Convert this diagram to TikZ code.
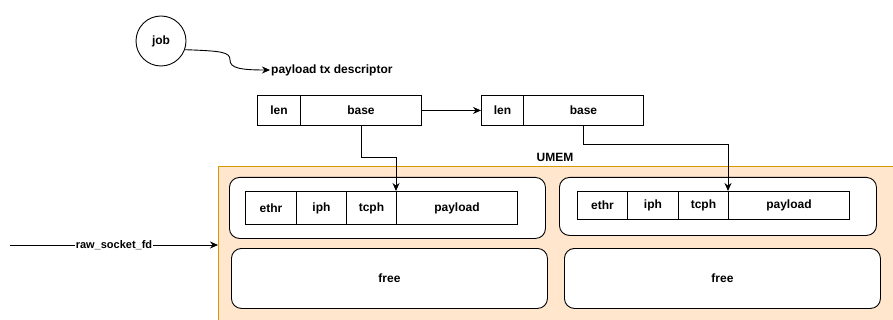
\documentclass[tikz,border=0pt]{standalone}
\usepackage{fontspec}
\setmainfont{Liberation Sans}
\usetikzlibrary{arrows.meta}
\definecolor{umemfill}{HTML}{FFE6CC}
\definecolor{umemline}{HTML}{D79B00}
\tikzset{
  lbl/.style={font=\bfseries\fontsize{12}{14}\selectfont, inner sep=1pt},
  cell/.style={draw, line width=0.9pt, fill=white, anchor=north west, inner sep=0pt,
    font=\bfseries\fontsize{12}{14}\selectfont},
  region/.style={draw, line width=0.9pt, fill=white, rounded corners=10pt, anchor=north west, inner sep=0pt,
    font=\bfseries\fontsize{12}{14}\selectfont},
  arr/.style={line width=0.9pt, -{Stealth[length=8pt,width=7pt]}},
}
\begin{document}
\begin{tikzpicture}[x=1pt,y=-1pt]
\useasboundingbox (0,0) rectangle (893,320);
\clip (0,0) rectangle (893,320);
% UMEM area
\fill[umemfill] (218,167) rectangle (900,330);
\draw[umemline, line width=1pt] (900,167) -- (218,167) -- (218,330);
\node[lbl] (umemlbl) at (555,157) {UMEM};
\coordinate (umemw) at (218,245);

% job
\node[draw, circle, line width=0.9pt, minimum size=50pt, inner sep=0pt, lbl] (job) at (161,41) {job};
\node[lbl, anchor=west] (desc) at (270,70) {payload tx descriptor};
\draw[arr] (job.-20) .. controls (222,51) and (230,52) .. (230,60)
  .. controls (230,68) and (240,70) .. (desc.west);

% descriptors
\node[cell, minimum width=43pt, minimum height=30pt] (len1) at (257,95) {len};
\node[cell, minimum width=121pt, minimum height=30pt] (base1) at (300,95) {base};
\node[cell, minimum width=42pt, minimum height=30pt] (len2) at (481,95) {len};
\node[cell, minimum width=120pt, minimum height=30pt] (base2) at (523,95) {base};

% left buffer
\node[region, minimum width=316pt, minimum height=61pt] (bufL) at (229,177) {};
\node[cell, minimum width=51pt, minimum height=33pt] (ethrL) at (245,191) {ethr};
\node[cell, minimum width=50pt, minimum height=33pt] (iphL) at (296,191) {iph};
\node[cell, minimum width=50pt, minimum height=33pt] (tcphL) at (346,191) {tcph};
\node[cell, minimum width=121pt, minimum height=33pt] (payL) at (396,191) {payload};
\node[region, minimum width=316pt, minimum height=60pt] (freeL) at (231,248) {free};

% right buffer
\node[region, minimum width=317pt, minimum height=58pt] (bufR) at (559,177) {};
\node[cell, minimum width=50pt, minimum height=28pt] (ethrR) at (577,191) {ethr};
\node[cell, minimum width=51pt, minimum height=28pt] (iphR) at (627,191) {iph};
\node[cell, minimum width=50pt, minimum height=28pt] (tcphR) at (678,191) {tcph};
\node[cell, minimum width=121pt, minimum height=28pt] (payR) at (728,191) {payload};
\node[region, minimum width=316pt, minimum height=60pt] (freeR) at (564,248) {free};

% connectors
\draw[arr] (base1.east) -- (len2.west);
\draw[arr] (base1.south) -- ++(0,32) -| (payL.north west);
\draw[arr] (base2.south) -- ++(0,19) -| (payR.north west);

\coordinate (rawstart) at (10,245);
\draw[arr] (rawstart) -- node[lbl, fill=white, font=\bfseries\fontsize{11}{13}\selectfont, inner sep=0.5pt] (rawlbl) {raw\_socket\_fd} (umemw);
\end{tikzpicture}
\end{document}
